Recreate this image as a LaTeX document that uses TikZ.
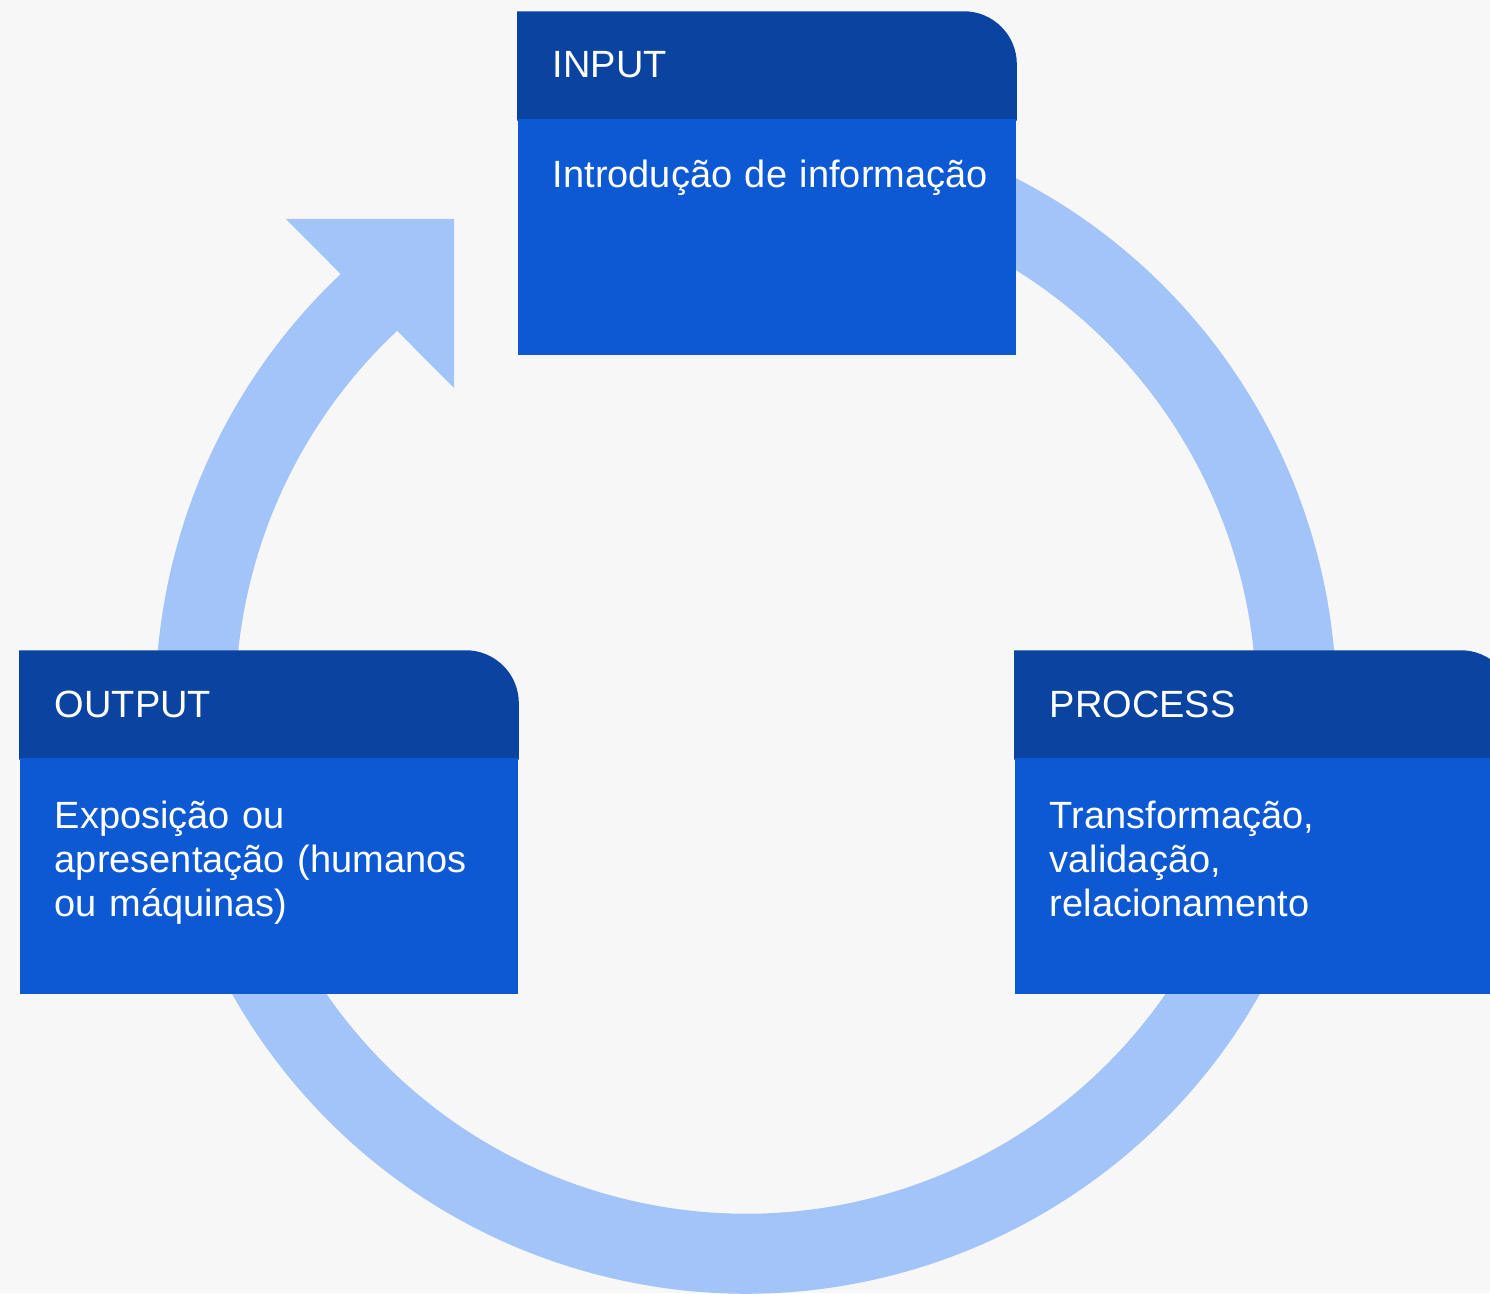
\documentclass[tikz,border=0pt]{standalone}
\usepackage{fontspec}
\setmainfont{Liberation Sans}
\usetikzlibrary{positioning,backgrounds,calc}
\definecolor{bg}{RGB}{247,247,247}
\definecolor{ring}{RGB}{163,196,248}
\definecolor{head}{RGB}{11,67,160}
\definecolor{body}{RGB}{13,88,211}
\tikzstyle{hdr} = [rectangle, text=white, text width=4.28cm, inner xsep=0.35cm, inner ysep=0pt, minimum height=1.06cm, align=left, font=\fontsize{10.8}{12.5}\selectfont]
\tikzstyle{bdy} = [rectangle, fill=body, minimum width=4.98cm, minimum height=2.35cm, inner sep=0pt]
\tikzstyle{bodytxt} = [text=white, text width=4.4cm, inner sep=0pt, align=left, anchor=base west, font=\fontsize{10.8}{12.5}\selectfont]
\tikzstyle{loopring} = [draw=ring, line width=0.8cm]

\begin{document}
\begin{tikzpicture}[x=0.01cm, y=0.01cm]
\useasboundingbox (0,0) rectangle (1490,1293);

% boxes ==================================

% input
\node[hdr] (inh) at (767,1228) {INPUT};
\node[bdy, below=0pt of inh] (inb) {};

% output
\node[hdr] (outh) at (269,589) {OUTPUT};
\node[bdy, below=0pt of outh] (outb) {};

% process
\node[hdr] (proch) at (1264,589) {PROCESS};
\node[bdy, below=0pt of proch] (procb) {};

% texts
\node[bodytxt] (intxt) at ([shift={(35,-69)}]inb.north west) {Introdução de informação};
\node[bodytxt] (outtxt) at ([shift={(35,-71)}]outb.north west) {Exposição ou\\apresentação (humanos\\ou máquinas)};
\node[bodytxt] (proctxt) at ([shift={(35,-71)}]procb.north west) {Transformação,\\validação,\\relacionamento};

% ring and header tabs
\begin{scope}[on background layer]
\fill[bg] (0,0) rectangle (1490,1293);
\coordinate (c) at (746,590);
\draw[loopring] ([shift={(75:550)}]c) arc[start angle=75, end angle=-227.5, radius=5.5cm];
\fill[ring] (286,1074) -- (454,1074) -- (454,905) -- cycle;

\fill[head] ([yshift=-0.02cm]inh.south west) -- (inh.north west) -- ([xshift=-0.53cm]inh.north east) arc[start angle=90, end angle=0, radius=0.53cm] -- ([yshift=-0.02cm]inh.south east) -- cycle;
\fill[head] ([yshift=-0.02cm]outh.south west) -- (outh.north west) -- ([xshift=-0.53cm]outh.north east) arc[start angle=90, end angle=0, radius=0.53cm] -- ([yshift=-0.02cm]outh.south east) -- cycle;
\fill[head] ([yshift=-0.02cm]proch.south west) -- (proch.north west) -- ([xshift=-0.53cm]proch.north east) arc[start angle=90, end angle=0, radius=0.53cm] -- ([yshift=-0.02cm]proch.south east) -- cycle;
\end{scope}

\end{tikzpicture}
\end{document}
